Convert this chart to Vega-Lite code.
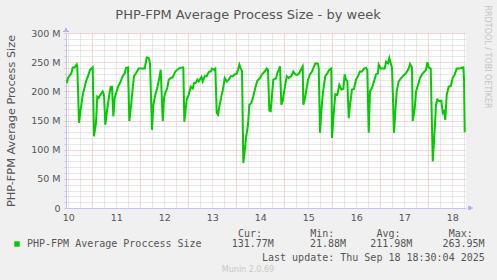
{
  "$schema": "https://vega.github.io/schema/vega-lite/v6.json",
  "width": 400,
  "height": 175,
  "autosize": "none",
  "padding": {"left": 66, "top": 33, "right": 31, "bottom": 72},
  "background": "#f0f0f0",
  "config": {"font": "DejaVu Sans", "view": {"stroke": null, "fill": "#ffffff"}},
  "title": {"text": "PHP-FPM Average Process Size - by week", "anchor": "middle", "frame": "group", "dx": -18, "dy": 26.5, "font": "DejaVu Sans", "fontSize": 13, "fontWeight": "normal", "color": "#555555", "baseline": "alphabetic", "offset": 0},
  "data": {"values": [
{"d":10.467,"v":214},{"d":10.494,"v":223},{"d":10.563,"v":231},{"d":10.592,"v":241},{"d":10.633,"v":241},{"d":10.675,"v":246},{"d":10.688,"v":241},{"d":10.723,"v":146},{"d":10.758,"v":169},{"d":10.8,"v":194},{"d":10.842,"v":208},{"d":10.869,"v":217},{"d":10.91,"v":226},{"d":10.952,"v":237},{"d":10.994,"v":240},{"d":11.008,"v":241},{"d":11.035,"v":123},{"d":11.077,"v":146},{"d":11.104,"v":191},{"d":11.133,"v":189},{"d":11.175,"v":195},{"d":11.217,"v":200},{"d":11.244,"v":194},{"d":11.271,"v":143},{"d":11.313,"v":171},{"d":11.354,"v":194},{"d":11.383,"v":208},{"d":11.41,"v":208},{"d":11.438,"v":157},{"d":11.467,"v":189},{"d":11.508,"v":200},{"d":11.535,"v":208},{"d":11.592,"v":217},{"d":11.633,"v":226},{"d":11.675,"v":231},{"d":11.702,"v":240},{"d":11.744,"v":241},{"d":11.771,"v":149},{"d":11.813,"v":180},{"d":11.842,"v":206},{"d":11.869,"v":226},{"d":11.91,"v":231},{"d":11.967,"v":239},{"d":12.035,"v":239},{"d":12.092,"v":239},{"d":12.133,"v":258},{"d":12.175,"v":257},{"d":12.202,"v":248},{"d":12.244,"v":134},{"d":12.271,"v":177},{"d":12.313,"v":194},{"d":12.354,"v":206},{"d":12.396,"v":223},{"d":12.425,"v":237},{"d":12.467,"v":149},{"d":12.494,"v":189},{"d":12.521,"v":197},{"d":12.563,"v":206},{"d":12.592,"v":220},{"d":12.633,"v":223},{"d":12.675,"v":224},{"d":12.729,"v":234},{"d":12.8,"v":239},{"d":12.869,"v":241},{"d":12.896,"v":241},{"d":12.917,"v":148},{"d":12.967,"v":186},{"d":13.008,"v":194},{"d":13.05,"v":208},{"d":13.092,"v":205},{"d":13.119,"v":214},{"d":13.16,"v":215},{"d":13.188,"v":220},{"d":13.217,"v":217},{"d":13.258,"v":223},{"d":13.275,"v":225},{"d":13.3,"v":217},{"d":13.342,"v":226},{"d":13.383,"v":226},{"d":13.425,"v":233},{"d":13.467,"v":234},{"d":13.494,"v":239},{"d":13.535,"v":237},{"d":13.563,"v":239},{"d":13.592,"v":163},{"d":13.619,"v":160},{"d":13.646,"v":174},{"d":13.688,"v":191},{"d":13.729,"v":206},{"d":13.758,"v":223},{"d":13.8,"v":217},{"d":13.842,"v":220},{"d":13.883,"v":226},{"d":13.925,"v":226},{"d":13.967,"v":229},{"d":14.008,"v":230},{"d":14.035,"v":237},{"d":14.063,"v":246},{"d":14.092,"v":239},{"d":14.119,"v":235},{"d":14.146,"v":77},{"d":14.175,"v":97},{"d":14.202,"v":120},{"d":14.244,"v":143},{"d":14.271,"v":177},{"d":14.313,"v":180},{"d":14.354,"v":191},{"d":14.396,"v":206},{"d":14.438,"v":218},{"d":14.494,"v":223},{"d":14.535,"v":229},{"d":14.592,"v":234},{"d":14.633,"v":239},{"d":14.66,"v":237},{"d":14.688,"v":167},{"d":14.717,"v":166},{"d":14.744,"v":194},{"d":14.771,"v":220},{"d":14.827,"v":222},{"d":14.854,"v":231},{"d":14.883,"v":237},{"d":14.91,"v":243},{"d":14.938,"v":177},{"d":14.967,"v":183},{"d":15.008,"v":206},{"d":15.05,"v":226},{"d":15.092,"v":223},{"d":15.146,"v":226},{"d":15.188,"v":234},{"d":15.229,"v":229},{"d":15.271,"v":228},{"d":15.313,"v":231},{"d":15.354,"v":239},{"d":15.383,"v":243},{"d":15.396,"v":177},{"d":15.425,"v":186},{"d":15.467,"v":206},{"d":15.494,"v":220},{"d":15.535,"v":229},{"d":15.577,"v":234},{"d":15.619,"v":243},{"d":15.646,"v":248},{"d":15.702,"v":247},{"d":15.717,"v":240},{"d":15.744,"v":129},{"d":15.771,"v":166},{"d":15.8,"v":194},{"d":15.827,"v":211},{"d":15.854,"v":226},{"d":15.896,"v":231},{"d":15.938,"v":237},{"d":15.979,"v":239},{"d":15.994,"v":120},{"d":16.035,"v":169},{"d":16.063,"v":195},{"d":16.104,"v":194},{"d":16.146,"v":211},{"d":16.188,"v":203},{"d":16.229,"v":204},{"d":16.258,"v":229},{"d":16.285,"v":220},{"d":16.313,"v":218},{"d":16.342,"v":154},{"d":16.369,"v":177},{"d":16.41,"v":203},{"d":16.452,"v":204},{"d":16.494,"v":220},{"d":16.535,"v":226},{"d":16.577,"v":234},{"d":16.619,"v":234},{"d":16.66,"v":239},{"d":16.702,"v":240},{"d":16.729,"v":237},{"d":16.758,"v":129},{"d":16.785,"v":200},{"d":16.827,"v":206},{"d":16.869,"v":217},{"d":16.91,"v":229},{"d":16.952,"v":231},{"d":16.967,"v":246},{"d":17.008,"v":239},{"d":17.05,"v":239},{"d":17.092,"v":239},{"d":17.119,"v":251},{"d":17.16,"v":248},{"d":17.188,"v":257},{"d":17.217,"v":248},{"d":17.244,"v":240},{"d":17.285,"v":129},{"d":17.313,"v":166},{"d":17.342,"v":200},{"d":17.383,"v":217},{"d":17.438,"v":223},{"d":17.479,"v":227},{"d":17.535,"v":231},{"d":17.592,"v":239},{"d":17.619,"v":247},{"d":17.66,"v":241},{"d":17.675,"v":149},{"d":17.717,"v":171},{"d":17.744,"v":200},{"d":17.785,"v":211},{"d":17.827,"v":223},{"d":17.869,"v":229},{"d":17.91,"v":233},{"d":17.952,"v":237},{"d":17.979,"v":250},{"d":18.008,"v":241},{"d":18.05,"v":239},{"d":18.092,"v":80},{"d":18.119,"v":114},{"d":18.16,"v":177},{"d":18.188,"v":186},{"d":18.229,"v":183},{"d":18.271,"v":184},{"d":18.3,"v":163},{"d":18.327,"v":166},{"d":18.354,"v":151},{"d":18.383,"v":194},{"d":18.425,"v":208},{"d":18.467,"v":209},{"d":18.508,"v":223},{"d":18.55,"v":229},{"d":18.592,"v":239},{"d":18.646,"v":239},{"d":18.688,"v":240},{"d":18.729,"v":241},{"d":18.744,"v":220},{"d":18.758,"v":130}
  ]},
  "resolve": {"axis": {"x": "independent", "y": "independent"}},
  "layer": [
    {
      "mark": {"type": "line", "strokeWidth": 2, "clip": true},
      "encoding": {
        "x": {"field": "d", "type": "quantitative",
          "scale": {"domain": [10.452, 18.785], "nice": false, "zero": false},
          "axis": {
            "orient": "bottom",
            "values": [10.5,10.75,11,11.25,11.5,11.75,12,12.25,12.5,12.75,13,13.25,13.5,13.75,14,14.25,14.5,14.75,15,15.25,15.5,15.75,16,16.25,16.5,16.75,17,17.25,17.5,17.75,18,18.25,18.5,18.75],
            "labelExpr": "datum.value % 1 === 0.5 ? '' + floor(datum.value) : ''",
            "labelOverlap": false, "labelFlush": false,
            "labelFont": "DejaVu Sans", "labelFontSize": 9.5, "labelColor": "#555555",
            "labelBaseline": "alphabetic", "labelPadding": 12.5,
            "ticks": false, "tickSize": 0,
            "domainColor": "#c4c4f4", "domainWidth": 1,
            "grid": true, "gridDash": [1, 1], "gridWidth": 1,
            "gridColor": {"condition": {"test": "datum.value % 1 === 0", "value": "#f4a8a8"}, "value": "#d0d0d0"},
            "title": ["\u200b\u00a0\u00a0\u00a0\u00a0\u00a0\u00a0\u00a0\u00a0\u00a0\u00a0\u00a0\u00a0\u00a0\u00a0\u00a0\u00a0\u00a0\u00a0\u00a0\u00a0\u00a0\u00a0\u00a0\u00a0\u00a0\u00a0\u00a0\u00a0\u00a0\u00a0\u00a0\u00a0\u00a0\u00a0\u00a0Cur:\u00a0\u00a0\u00a0\u00a0\u00a0\u00a0\u00a0\u00a0Min:\u00a0\u00a0\u00a0\u00a0\u00a0\u00a0\u00a0Avg:\u00a0\u00a0\u00a0\u00a0\u00a0\u00a0\u00a0\u00a0Max:", "\u200b\u00a0", "\u200b\u00a0\u00a0\u00a0\u00a0\u00a0\u00a0\u00a0\u00a0\u00a0\u00a0\u00a0\u00a0\u00a0\u00a0\u00a0\u00a0\u00a0\u00a0\u00a0\u00a0\u00a0\u00a0\u00a0\u00a0\u00a0\u00a0\u00a0\u00a0\u00a0\u00a0\u00a0\u00a0\u00a0\u00a0\u00a0\u00a0\u00a0\u00a0\u00a0Last update: Thu Sep 18 18:30:04 2025"],
            "titleFont": "DejaVu Sans Mono", "titleFontSize": 10, "titleFontWeight": "normal", "titleColor": "#555555",
            "titleAlign": "left", "titleBaseline": "alphabetic", "titleLineHeight": 12,
            "titleX": -39.3, "titleY": 28
          }
        },
        "y": {"field": "v", "type": "quantitative",
          "scale": {"domain": [0, 300], "nice": false},
          "axis": {
            "orient": "left",
            "values": [0,10,20,30,40,50,60,70,80,90,100,110,120,130,140,150,160,170,180,190,200,210,220,230,240,250,260,270,280,290,300],
            "labelExpr": "datum.value % 50 === 0 ? (datum.value === 0 ? '0' : datum.value + ' M') : ''",
            "labelOverlap": false, "labelFlush": false,
            "labelFont": "DejaVu Sans", "labelFontSize": 9.5, "labelColor": "#555555", "labelPadding": 4,
            "ticks": true, "tickSize": 2, "tickColor": "#c8c8c8",
            "domainColor": "#c4c4f4", "domainWidth": 1,
            "grid": true, "gridDash": [1, 1], "gridWidth": 1,
            "gridColor": {"condition": {"test": "datum.value % 50 === 0", "value": "#f4a8a8"}, "value": "#d0d0d0"},
            "title": "PHP-FPM Average Process Size",
            "titleFont": "DejaVu Sans", "titleFontSize": 11.3, "titleFontWeight": "normal", "titleColor": "#555555",
            "titleAlign": "center", "titleBaseline": "alphabetic", "titleAngle": -90,
            "titleX": -52, "titleY": 87.5
          }
        },
        "color": {"datum": "PHP-FPM Average Proccess Size", "type": "nominal",
          "scale": {"range": ["#00cc00"]},
          "legend": {
            "orient": "none", "legendX": -54, "legendY": 206, "padding": 0,
            "symbolType": "square", "symbolSize": 30, "symbolFillColor": "#00cc00", "symbolStrokeColor": "#00cc00", "symbolStrokeWidth": 0, "symbolOpacity": 1,
            "labelFont": "DejaVu Sans Mono", "labelFontSize": 10, "labelColor": "#555555", "labelOffset": 5, "labelLimit": 0,
            "labelExpr": "datum.label + '\u00a0\u00a0\u00a0\u00a0\u00a0131.77M\u00a0\u00a0\u00a0\u00a0\u00a0\u00a021.88M\u00a0\u00a0\u00a0\u00a0211.98M\u00a0\u00a0\u00a0\u00a0\u00a0263.95M'",
            "title": "Munin 2.0.69", "titleOrient": "bottom", "titleAnchor": "middle",
            "titleFont": "DejaVu Sans", "titleFontSize": 8, "titleFontWeight": "normal", "titleColor": "#c8c8c8", "titlePadding": 17
          }
        }
      }
    },
    {
      "mark": {"type": "point", "shape": "triangle-right", "size": 18, "filled": true, "color": "#b4b4f4", "opacity": 1, "clip": false},
      "encoding": {
        "x": {"datum": 18.879, "type": "quantitative", "scale": {"domain": [10.452, 18.785], "nice": false, "zero": false}, "axis": null},
        "y": {"datum": 0, "type": "quantitative", "scale": {"domain": [0, 300], "nice": false},
          "axis": {
            "orient": "right", "labels": false, "ticks": false, "domain": false, "grid": false,
            "title": "RRDTOOL / TOBI OETIKER",
            "titleFont": "DejaVu Sans", "titleFontSize": 8, "titleFontWeight": "normal", "titleColor": "#c4c4c4",
            "titleAngle": 90, "titleAlign": "left", "titleBaseline": "alphabetic", "titleX": 18, "titleY": -28
          }
        }
      }
    },
    {
      "mark": {"type": "point", "shape": "triangle-up", "size": 18, "filled": true, "color": "#b4b4f4", "opacity": 1, "clip": false},
      "encoding": {
        "x": {"datum": 10.452, "type": "quantitative", "scale": {"domain": [10.452, 18.785], "nice": false, "zero": false}, "axis": null},
        "y": {"datum": 305, "type": "quantitative", "scale": {"domain": [0, 300], "nice": false}, "axis": null}
      }
    }
  ]
}
